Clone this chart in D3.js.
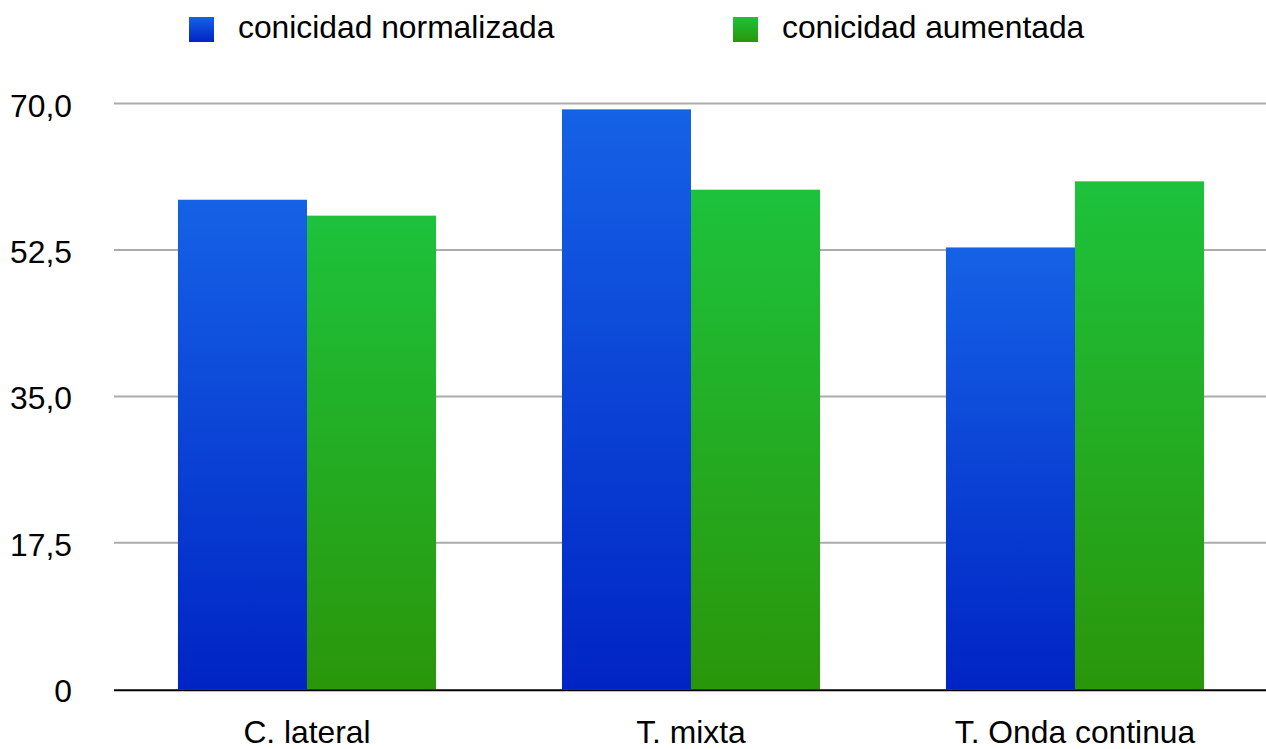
<!DOCTYPE html>
<html>
<head>
<meta charset="utf-8">
<script src="https://cdn.jsdelivr.net/npm/d3@7"></script>
<style>
  html, body { margin: 0; padding: 0; background: #fff; }
  svg { display: block; font-family: "Liberation Sans", Arial, Helvetica, sans-serif; }
</style>
</head>
<body>
<svg id="chart" width="1266" height="749"></svg>
<script>
// Categories and the two series
const categories = ["C. lateral", "T. mixta", "T. Onda continua"];
const seriesNames = ["conicidad normalizada", "conicidad aumentada"];
const normalizada = [58.5, 69.3, 52.8];
const aumentada = [56.6, 59.7, 60.7];
const yTicks = [0, 17.5, 35, 52.5, 70];
const yTickLabels = ["0", "17,5", "35,0", "52,5", "70,0"];

const W = 1266, H = 749;
const plotLeft = 115, plotRight = 1267, plotBottom = 689.3, plotTop = 103.5;
const fontSize = 31.8;

const svg = d3.select("#chart");
const defs = svg.append("defs");

// Vertical gradients for the bar fills
const grads = [
  { id: "gBlue", top: "#1562e6", bottom: "#0024c4" },
  { id: "gGreen", top: "#1dc23c", bottom: "#2a960a" }
];
grads.forEach(g => {
  const lg = defs.append("linearGradient").attr("id", g.id)
    .attr("x1", 0).attr("y1", 0).attr("x2", 0).attr("y2", 1);
  lg.append("stop").attr("offset", "0%").attr("stop-color", g.top);
  lg.append("stop").attr("offset", "100%").attr("stop-color", g.bottom);
});

const x0 = d3.scaleBand().domain(categories).range([plotLeft, plotRight])
  .paddingInner(0.328).paddingOuter(0.164);
const x1 = d3.scaleBand().domain(seriesNames).range([0, x0.bandwidth()]);
const y = d3.scaleLinear().domain([0, 70]).range([plotBottom, plotTop]);

// Gridlines
svg.append("g").selectAll("line").data(yTicks.filter(t => t > 0)).join("line")
  .attr("x1", plotLeft - 1).attr("x2", W)
  .attr("y1", d => y(d)).attr("y2", d => y(d))
  .attr("stroke", "#ababab").attr("stroke-width", 2);

// Y tick labels
svg.append("g").selectAll("text").data(yTicks).join("text")
  .attr("x", 72).attr("y", d => y(d) + 13)
  .attr("text-anchor", "end")
  .attr("font-size", fontSize).attr("fill", "#000")
  .text((d, i) => yTickLabels[i]);

// Bars
const rows = categories.map((c, i) => ({ cat: c, vals: [normalizada[i], aumentada[i]] }));
const fills = ["url(#gBlue)", "url(#gGreen)"];
const groups = svg.append("g").selectAll("g").data(rows).join("g")
  .attr("transform", d => `translate(${x0(d.cat)},0)`);
groups.selectAll("rect").data(d => d.vals.map((v, k) => ({ s: seriesNames[k], v, k }))).join("rect")
  .attr("x", d => x1(d.s))
  .attr("width", x1.bandwidth())
  .attr("y", d => y(d.v))
  .attr("height", d => y(0) - y(d.v))
  .attr("fill", d => fills[d.k]);

// Baseline
svg.append("line").attr("x1", plotLeft - 1).attr("x2", W)
  .attr("y1", plotBottom + 1).attr("y2", plotBottom + 1)
  .attr("stroke", "#000").attr("stroke-width", 2);

// Category labels
svg.append("g").selectAll("text").data(categories).join("text")
  .attr("x", d => x0(d) + x0.bandwidth() / 2).attr("y", 743)
  .attr("text-anchor", "middle").attr("font-size", fontSize).attr("fill", "#000")
  .text(d => d);

// Legend
const legendX = [189, 733];
const legend = svg.append("g").selectAll("g").data(seriesNames).join("g")
  .attr("transform", (d, i) => `translate(${legendX[i]},17)`);
legend.append("rect").attr("width", 25).attr("height", 25)
  .attr("fill", (d, i) => fills[i]);
legend.append("text").attr("x", 49).attr("y", 21)
  .attr("font-size", fontSize).attr("fill", "#000").text(d => d);
</script>
</body>
</html>
